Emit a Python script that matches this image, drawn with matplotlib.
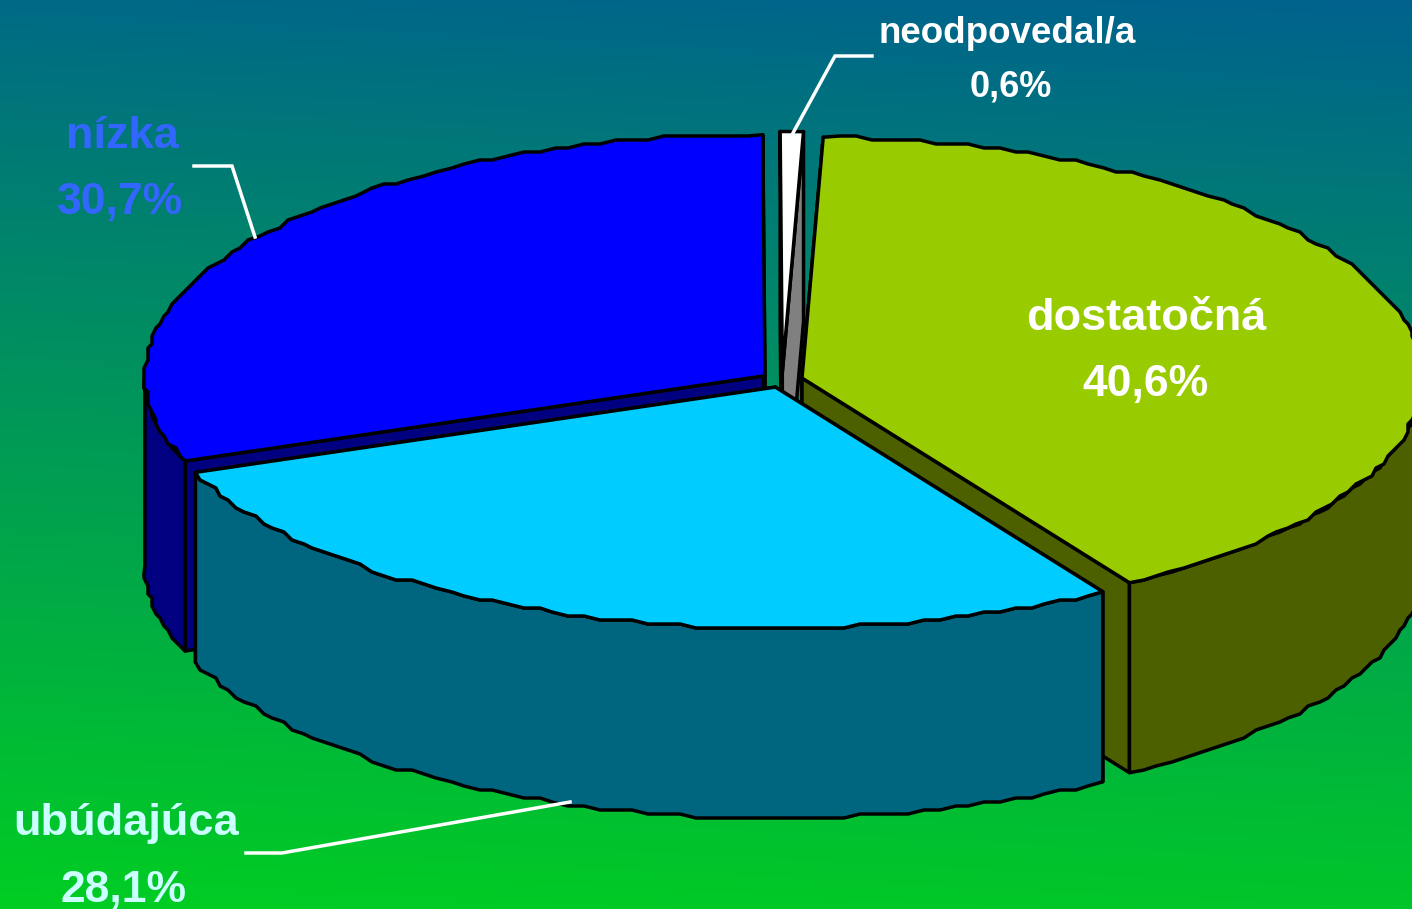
import numpy as np
import matplotlib
matplotlib.use('Agg')
import matplotlib.pyplot as plt
from matplotlib.patches import Polygon

# slice data, clockwise from the top
labels = ['neodpovedal/a', 'dostatočná', 'ubúdajúca', 'nízka']
shares = [0.6, 40.6, 28.1, 30.7]
value_labels = ['0,6%', '40,6%', '28,1%', '30,7%']
top_colors = ['#ffffff', '#99cc00', '#00ccff', '#0000ff']
side_colors = ['#808080', '#4c6000', '#006680', '#000080']

W, H = 1412, 909
CX, CY = 782, 380
RX, RY = 620, 241
DEPTH = 190
EXPLODE_X, EXPLODE_Y = 20.7, 7.5
START = 90.2
GRID = 4

fig = plt.figure(figsize=(W / 100, H / 100), dpi=100)
ax = fig.add_axes([0, 0, 1, 1])
ax.set_xlim(0, W)
ax.set_ylim(H, 0)
ax.axis('off')

# background gradient
yy, xx = np.mgrid[0:H, 0:W]
t = (yy / H + 0.08 * (1 - xx / W)) / 1.08
top_c = np.array([0, 98, 142]) / 255
bot_c = np.array([0, 206, 34]) / 255
bg = top_c[None, None, :] + t[:, :, None] * (bot_c - top_c)[None, None, :]
ax.imshow(bg, extent=[0, W, H, 0], aspect='auto', zorder=0)


def rim(cx, cy, a0, a1):
    # ellipse arc, snapped to a coarse grid so the rim has the stepped look
    n = max(2, int(abs(a1 - a0) / 1.5) + 1)
    ang = np.radians(np.linspace(a0, a1, n))
    x = cx + RX * np.cos(ang)
    y = cy - RY * np.sin(ang)
    x[1:-1] = np.round(x[1:-1] / GRID) * GRID
    y[1:-1] = np.round(y[1:-1] / GRID) * GRID
    return np.column_stack([x, y])


def poly(pts, color, z):
    ax.add_patch(Polygon(pts, closed=True, facecolor=color, edgecolor='black',
                         linewidth=2.5, joinstyle='round', zorder=z))


def wedge(i, a0, a1, z):
    mid = np.radians((a0 + a1) / 2)
    cx = CX + EXPLODE_X * np.cos(mid)
    cy = CY - EXPLODE_Y * np.sin(mid)
    apex = np.array([[cx, cy]])
    down = np.array([0, DEPTH])
    # cut faces first
    for a in (a0, a1):
        p = rim(cx, cy, a, a)[:1]
        poly(np.vstack([apex, p, p + down, apex + down]), side_colors[i], z)
    # outer wall, only the part facing the viewer
    arc_a, arc_b = sorted((a0, a1))
    b0, b1 = None, None
    for k in (0, -360):
        s, e = max(arc_a + k, -180), min(arc_b + k, 0)
        if s < e:
            b0, b1 = s, e
    if b0 is not None:
        r = rim(cx, cy, b0, b1)
        poly(np.vstack([r, r[::-1] + down]), side_colors[i], z + 0.1)
    poly(np.vstack([apex, rim(cx, cy, a0, a1)]), top_colors[i], z + 0.2)


# slices in the order that hides the right faces
bounds = START - np.concatenate([[0], np.cumsum(shares)]) * 3.6
order = [3, 0, 1, 2]
for z, i in enumerate(order):
    wedge(i, bounds[i], bounds[i + 1], 2 + z)

# leader lines
lead_x = [[872, 835, 793], [194, 232, 255], [246, 282, 570]]
lead_y = [[56, 56, 133], [166, 166, 237], [853, 853, 802]]
for lx, ly in zip(lead_x, lead_y):
    ax.plot(lx, ly, color='white', lw=2.5, zorder=10, solid_joinstyle='miter')

# labels
font = dict(family='Liberation Sans', fontweight='bold', ha='center', va='baseline', zorder=11)
name_pos = [(1007, 43, 26.5), (1146, 330, 32.5), (126, 835, 32.5), (122, 148, 32.5)]
val_pos = [(1011, 96, 26), (1145, 396, 32), (123, 902, 32), (120, 214, 32)]
text_colors = ['white', 'white', '#ccffff', '#3366ff']
for i in range(4):
    x, y, s = name_pos[i]
    ax.text(x, y, labels[i], fontsize=s, color=text_colors[i], **font)
    x, y, s = val_pos[i]
    ax.text(x, y, value_labels[i], fontsize=s, color=text_colors[i], **font)

fig.savefig('out.png', dpi=100)
